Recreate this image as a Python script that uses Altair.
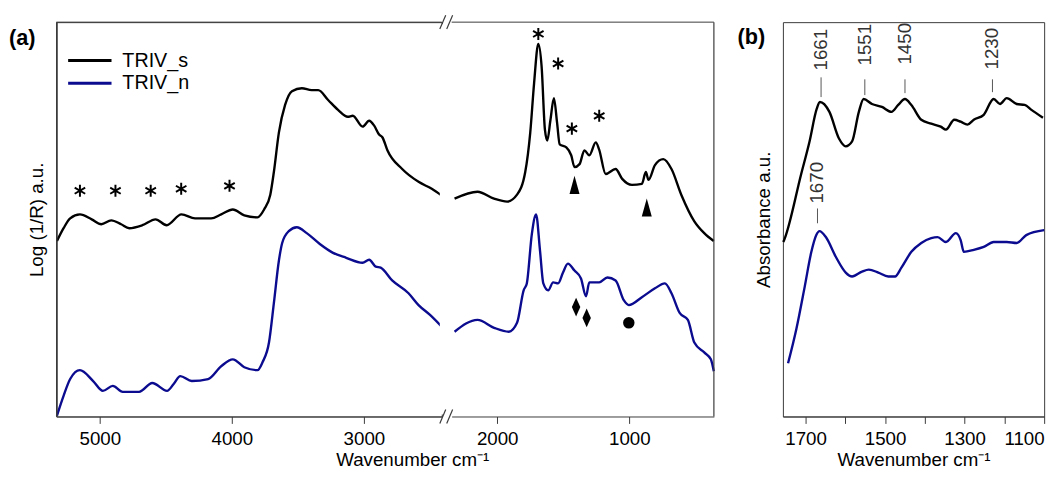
import altair as alt
import pandas as pd

# ---------------- data ----------------
# Panel (a), high-wavenumber part (5330 .. 2410 cm-1)
wn_s_hi = [5325, 5275, 5225, 5151, 5062, 4989, 4914, 4839, 4777, 4678, 4578, 4494, 4382, 4279,
           4157, 4081, 3993, 3906, 3806, 3756, 3709, 3682, 3644, 3597, 3545, 3470, 3396, 3346,
           3271, 3196, 3122, 3084, 3010, 2960, 2922, 2885, 2859, 2822, 2710, 2586, 2486, 2410]
val_s_hi = [178, 191, 201, 205, 200, 195, 199, 195, 191, 194, 200, 194, 205, 201,
            201, 205, 210, 204, 202, 210, 225, 248, 288, 316, 330, 333, 331, 331,
            321, 311, 304, 305, 294, 300, 295, 286, 283, 270, 251, 238, 231, 224]
wn_n_hi = [5325, 5275, 5225, 5151, 5051, 4977, 4902, 4827, 4703, 4603, 4491, 4441, 4391, 4304,
           4180, 4081, 3993, 3906, 3806, 3768, 3719, 3682, 3644, 3619, 3569, 3508, 3433, 3334,
           3234, 3134, 3010, 2960, 2910, 2873, 2786, 2662, 2586, 2499, 2410]
val_n_hi = [1, 21, 38, 47, 36, 26, 31, 25, 25, 34, 26, 33, 41, 36,
            38, 51, 58, 50, 47, 55, 75, 115, 158, 176, 188, 192, 186, 175,
            166, 161, 156, 159, 152, 151, 138, 125, 113, 103, 91]

# Panel (a), low-wavenumber part (2345 .. 360 cm-1)
wn_s_lo = [2323, 2149, 2024, 1925, 1850, 1788, 1750, 1721, 1689, 1664, 1639, 1621, 1597, 1571,
           1547, 1527, 1477, 1440, 1415, 1377, 1340, 1303, 1254, 1229, 1179, 1104, 1054, 980,
           905, 875, 855, 806, 743, 681, 607, 508, 433, 361]
val_s_lo = [221, 228, 221, 218, 225, 248, 288, 338, 378, 355, 291, 280, 301, 323,
            298, 276, 273, 265, 253, 256, 270, 265, 278, 271, 246, 251, 241, 235,
            236, 248, 240, 255, 261, 251, 225, 198, 186, 178]
wn_n_lo = [2323, 2149, 2024, 1912, 1850, 1800, 1776, 1738, 1706, 1676, 1651, 1614, 1577, 1539,
           1502, 1465, 1415, 1366, 1328, 1303, 1228, 1166, 1104, 1042, 1004, 905, 806, 731,
           681, 619, 557, 508, 433, 383, 361]
val_n_lo = [86, 98, 90, 86, 95, 128, 135, 185, 205, 168, 135, 128, 136, 135,
            146, 155, 148, 140, 122, 136, 136, 141, 138, 118, 113, 121, 130, 135,
            125, 105, 98, 75, 65, 58, 46]

# Panel (b), 1757 .. 1100 cm-1
wn_s_b = [1756, 1752, 1711, 1690, 1672, 1664, 1640, 1616, 1599, 1583, 1566, 1554, 1533, 1508,
          1484, 1467, 1450, 1434, 1409, 1384, 1360, 1347, 1326, 1310, 1293, 1277, 1252, 1227,
          1211, 1194, 1169, 1149, 1132, 1103]
val_s_b = [177, 181, 246, 279, 312, 319, 309, 282, 274, 279, 309, 322, 317, 314,
           309, 316, 322, 316, 301, 297, 294, 291, 301, 299, 296, 301, 306, 322,
           317, 323, 317, 316, 311, 303]
wn_n_b = [1744, 1723, 1702, 1686, 1673, 1665, 1649, 1624, 1599, 1583, 1558, 1541, 1517, 1492,
          1475, 1459, 1434, 1409, 1384, 1368, 1347, 1322, 1310, 1302, 1277, 1252, 1227, 1194,
          1169, 1145, 1100]
val_n_b = [54, 89, 132, 166, 184, 188, 182, 162, 146, 142, 147, 149, 146, 142,
           142, 151, 167, 176, 181, 182, 177, 186, 179, 167, 169, 172, 177, 177,
           176, 184, 189]

# markers
ast_hi_wn = [5151, 4882, 4615, 4384, 4018]
ast_hi_val = [229, 229, 229, 231, 234]
ast_lo_wn = [1689, 1539, 1435, 1228]
ast_lo_val = [388, 358, 292, 305]
tri_wn = [1415, 868]
tri_val = [235, 212]
dia_wn = [1403, 1323]
dia_val = [111, 100]
dot_wn = [1004]
dot_val = [95]

# panel (b) peak labels
peak_lbl = ["1661", "1551", "1450", "1230", "1670"]
peak_wn = [1661, 1551, 1450, 1230, 1670]
peak_y1 = [324, 326, 328, 329, 196]
peak_y2 = [344, 342, 342, 342, 211]
peak_txt = [351, 356, 357, 352, 216]

series_names = ["TRIV_s", "TRIV_n"]
# ------------------------------------------------------------------

FONT = "Liberation Sans"
BLACK = "#000000"
BLUE = "#0b0b8f"
FRAME = "#3a3a3a"

ASTERISK = "M0,-1L0,1M-0.87,-0.5L0.87,0.5M-0.87,0.5L0.87,-0.5"
TRIANGLE = "M0,-1L0.55,1L-0.55,1Z"
DIAMOND = "M0,-1L0.45,0L0,1L-0.45,0Z"


def frame(wn_a, v_a, wn_b, v_b):
    d1 = pd.DataFrame({"wn": wn_a, "val": v_a, "series": series_names[0]})
    d2 = pd.DataFrame({"wn": wn_b, "val": v_b, "series": series_names[1]})
    return pd.concat([d1, d2], ignore_index=True)


color = alt.Color("series:N", scale=alt.Scale(domain=series_names, range=[BLACK, BLUE]), legend=None)
yscale = alt.Scale(domain=[0, 400], nice=False, zero=False)
one = pd.DataFrame({"k": [0]})

W_L, W_R, W_B, H = 391, 266, 265, 400
GAP = 10

y_a = alt.Y("val:Q", scale=yscale,
            axis=alt.Axis(title="Log (1/R) a.u.", labels=False, ticks=False, grid=False,
                          domain=True, titlePadding=10))
y_none = alt.Y("val:Q", scale=yscale, axis=None)
b_axis = alt.Axis(title="Absorbance a.u.", labels=False, ticks=False, grid=False,
                  domain=False, titlePadding=10)
y_b = alt.Y("val:Q", scale=yscale, axis=b_axis)


def lines(df, x, y):
    return alt.Chart(df).mark_line(strokeWidth=2.4, interpolate="monotone").encode(
        x=x, y=y, color=color, detail="series:N")


def pts(wn, val, x, y, shape, size, filled, sw=0):
    d = pd.DataFrame({"wn": wn, "val": val})
    return alt.Chart(d).mark_point(shape=shape, size=size, filled=filled, color=BLACK,
                                   strokeWidth=sw if sw else 1, opacity=1).encode(x=x, y=y)


def hrule(x0, x1, y):
    return alt.Chart(one).mark_rule(color=FRAME, strokeWidth=1).encode(
        x=alt.value(x0), x2=alt.value(x1), y=alt.value(y))


def vrule(x, y0, y1, sw=1.5, color=FRAME):
    return alt.Chart(one).mark_rule(color=color, strokeWidth=sw).encode(
        x=alt.value(x), y=alt.value(y0), y2=alt.value(y1))


def seg(x0, y0, x1, y1, color=FRAME, sw=1.2):
    return alt.Chart(one).mark_rule(color=color, strokeWidth=sw).encode(
        x=alt.value(x0), x2=alt.value(x1), y=alt.value(y0), y2=alt.value(y1))


def label(txt, x, y, size=20, weight="normal", color=BLACK):
    return alt.Chart(one).mark_text(text=txt, align="left", baseline="middle", fontSize=size,
                                    fontWeight=weight, color=color, font=FONT).encode(
        x=alt.value(x), y=alt.value(y))


# ---------- panel (a) left ----------
x_hi = alt.X("wn:Q", scale=alt.Scale(domain=[2410, 5330], reverse=True, nice=False, zero=False),
             axis=alt.Axis(values=[5000, 4000, 3000], format="d", title="Wavenumber cm⁻¹",
                           titleX=361, titleAlign="center", grid=False))
df_hi = frame(wn_s_hi, val_s_hi, wn_n_hi, val_n_hi)

a_left = alt.layer(
    lines(df_hi, x_hi, y_a),
    pts(ast_hi_wn, ast_hi_val, x_hi, y_a, ASTERISK, 150, False, 2),
    vrule(W_L, 2, H - 2, 4, "white"),          # hide the frame side at the axis break
    hrule(0, W_L, 0),
    vrule(0.5, 0, H, 1.5),
    seg(12, 39, 56, 39, BLACK, 3), label("TRIV_s", 67, 39),
    seg(12, 62, 56, 62, BLUE, 3), label("TRIV_n", 67, 62),
    label("(a)", -48, 16, 22, "bold"),
    seg(389, 7, 395, -7), seg(396, 7, 402, -7),
    seg(389, H + 7, 395, H - 7), seg(396, H + 7, 402, H - 7),
).properties(width=W_L, height=H, view=alt.ViewBackground(stroke=FRAME, strokeWidth=1))

# ---------- panel (a) right ----------
x_lo = alt.X("wn:Q", scale=alt.Scale(domain=[360, 2345], reverse=True, nice=False, zero=False),
             axis=alt.Axis(values=[2000, 1000], format="d", title=None, grid=False))
df_lo = frame(wn_s_lo, val_s_lo, wn_n_lo, val_n_lo)
a_right = alt.layer(
    lines(df_lo, x_lo, y_none),
    pts(ast_lo_wn, ast_lo_val, x_lo, y_none, ASTERISK, 150, False, 2),
    pts(tri_wn, tri_val, x_lo, y_none, TRIANGLE, 340, True),
    pts(dia_wn, dia_val, x_lo, y_none, DIAMOND, 360, True),
    pts(dot_wn, dot_val, x_lo, y_none, "circle", 135, True),
    hrule(0, W_R, 0),
    vrule(W_R, 0, H, 1.2),
).properties(width=W_R, height=H)

# empty spacer between the panels
spacer = alt.Chart(one).mark_point(opacity=0).encode(
    x=alt.value(0), y=alt.value(0)).properties(width=70 - 2 * GAP, height=H)

# ---------- panel (b) ----------
x_b = alt.X("wn:Q", scale=alt.Scale(domain=[1100, 1757], reverse=True, nice=False, zero=False),
            axis=alt.Axis(values=[1700, 1600, 1500, 1400, 1300, 1200, 1100], format="d",
                          labelExpr="datum.value % 200 == 100 ? datum.label : ''",
                          title="Wavenumber cm⁻¹", grid=False))
df_b = frame(wn_s_b, val_s_b, wn_n_b, val_n_b)

pk = pd.DataFrame({"lbl": peak_lbl, "wn": peak_wn, "y1": peak_y1, "y2": peak_y2, "yt": peak_txt})
pk_rules = alt.Chart(pk).mark_rule(color="#555555", strokeWidth=1).encode(
    x=x_b, y=alt.Y("y1:Q", scale=yscale, axis=b_axis), y2="y2:Q")
pk_text = alt.Chart(pk).mark_text(angle=270, align="left", baseline="middle", fontSize=19,
                                  color="#333333", font=FONT).encode(
    x=x_b, y=alt.Y("yt:Q", scale=yscale, axis=b_axis), text="lbl:N")

b_panel = alt.layer(
    lines(df_b, x_b, y_b), pk_rules, pk_text,
    label("(b)", -46, 15, 22, "bold"),
).properties(width=W_B, height=H, view=alt.ViewBackground(stroke=FRAME, strokeWidth=1))

chart = alt.hconcat(a_left, a_right, spacer, b_panel, spacing=GAP, bounds="flush").properties(
    padding={"left": 0, "top": 2, "right": 5, "bottom": 2}, background="white"
).configure_view(stroke=None).configure_axis(
    labelFont=FONT, titleFont=FONT, labelFontSize=19, titleFontSize=19, titleFontWeight="normal",
    labelColor=BLACK, titleColor=BLACK, tickColor=FRAME, domainColor=FRAME, tickSize=7,
    labelPadding=6, titlePadding=3, grid=False
).configure_text(font=FONT)

chart.save("out.html", embed_options={"renderer": "svg", "actions": False})
